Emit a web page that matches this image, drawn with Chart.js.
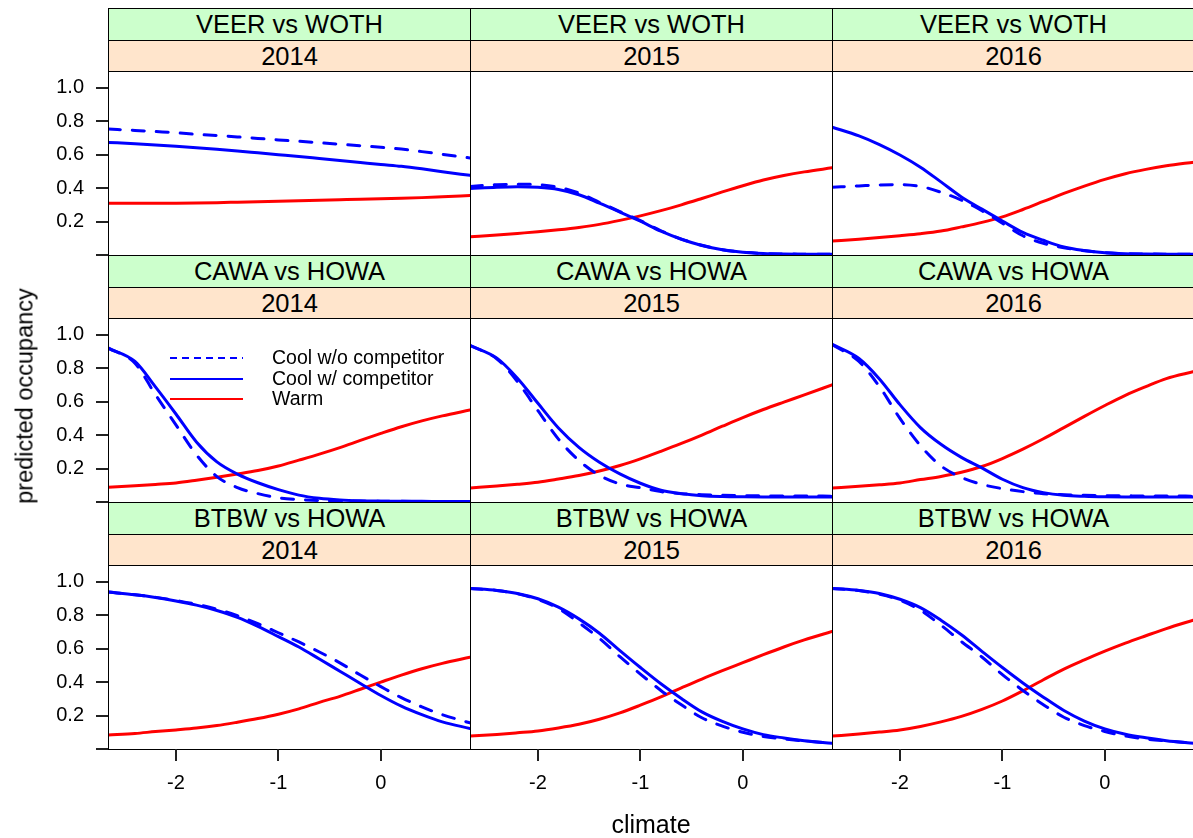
<!DOCTYPE html>
<html>
<head>
<meta charset="utf-8">
<script src="https://cdn.jsdelivr.net/npm/chart.js@4.4.0/dist/chart.umd.min.js"></script>
<style>
html,body{margin:0;padding:0;background:#fff;overflow:hidden;width:1193px;height:838px;}
#root{position:relative;width:1193px;height:838px;overflow:hidden;font-family:"Liberation Sans",Arial,sans-serif;color:#000;}
canvas{position:absolute;z-index:1;}
.strip{position:absolute;box-sizing:border-box;border:1px solid #000;text-align:center;font-size:25.5px;white-space:nowrap;z-index:2;}
.frame{position:absolute;box-sizing:border-box;border:1px solid #000;z-index:3;pointer-events:none;}
.tick{position:absolute;background:#222;z-index:5;pointer-events:none;}
#ytitle{position:absolute;left:25px;top:396px;transform:translate(-50%,-50%) rotate(-90deg);font-size:23.5px;white-space:nowrap;z-index:4;}
#xtitle{position:absolute;left:651px;top:824px;transform:translate(-50%,-50%);font-size:25px;white-space:nowrap;z-index:4;}
</style>
</head>
<body>
<div id="root">
  <div id="ytitle">predicted occupancy</div>
  <div id="xtitle">climate</div>
</div>
<script>
// ---------- data ----------
const climate = [-2.66, -2.4, -2.2, -2.0, -1.8, -1.6, -1.4, -1.2, -1.0, -0.8, -0.6, -0.4, -0.2, 0.0, 0.2, 0.4, 0.6, 0.87];
const pairs = ['VEER vs WOTH', 'CAWA vs HOWA', 'BTBW vs HOWA'];
const years = ['2014', '2015', '2016'];
const seriesLabels = ['Cool w/o competitor', 'Cool w/ competitor', 'Warm'];
const xTickValues = [-2, -1, 0];
const yTickValues = [0, 0.2, 0.4, 0.6, 0.8, 1.0];

// VEER vs WOTH
const veer2014_noComp = [.753,.745,.738,.731,.721,.714,.706,.697,.688,.680,.671,.662,.653,.644,.633,.618,.602,.580];
const veer2014_comp   = [.673,.665,.658,.650,.641,.632,.622,.611,.600,.589,.577,.565,.553,.541,.530,.515,.498,.476];
const veer2014_warm   = [.310,.310,.310,.310,.311,.313,.316,.319,.322,.325,.328,.331,.334,.336,.339,.343,.348,.355];
const veer2015_noComp = [.410,.420,.423,.420,.405,.370,.315,.260,.205,.145,.095,.058,.032,.016,.009,.006,.005,.004];
const veer2015_comp   = [.397,.405,.408,.405,.392,.360,.310,.257,.202,.142,.094,.057,.031,.016,.009,.006,.005,.004];
const veer2015_warm   = [.109,.119,.129,.139,.151,.165,.183,.207,.234,.265,.300,.338,.377,.414,.448,.475,.497,.521];
const veer2016_noComp = [.405,.413,.419,.421,.410,.375,.328,.265,.190,.115,.070,.043,.026,.014,.008,.006,.005,.004];
const veer2016_comp   = [.764,.712,.660,.598,.525,.437,.347,.274,.203,.135,.088,.048,.027,.014,.008,.006,.005,.004];
const veer2016_warm   = [.083,.094,.104,.115,.127,.143,.168,.195,.228,.272,.320,.368,.412,.452,.486,.512,.533,.555];
// CAWA vs HOWA
const cawa2014_noComp = [.920,.830,.642,.461,.282,.152,.086,.050,.025,.015,.009,.006,.005,.004,.004,.003,.003,.003];
const cawa2014_comp   = [.920,.840,.688,.526,.359,.240,.167,.115,.074,.041,.022,.012,.007,.005,.004,.004,.003,.003];
const cawa2014_warm   = [.088,.097,.105,.114,.130,.148,.167,.188,.215,.250,.286,.325,.368,.410,.450,.485,.515,.550];
const cawa2015_noComp = [.935,.855,.720,.546,.376,.248,.160,.108,.085,.062,.050,.044,.040,.038,.037,.036,.036,.035];
const cawa2015_comp   = [.935,.860,.740,.590,.443,.327,.238,.168,.112,.070,.050,.038,.033,.031,.030,.030,.030,.030];
const cawa2015_warm   = [.084,.096,.106,.118,.137,.158,.185,.218,.258,.303,.350,.400,.453,.505,.553,.597,.640,.700];
const cawa2016_noComp = [.940,.840,.690,.500,.337,.216,.147,.105,.080,.062,.050,.044,.040,.038,.037,.036,.036,.035];
const cawa2016_comp   = [.942,.858,.736,.582,.445,.345,.267,.204,.136,.086,.056,.040,.034,.031,.030,.030,.030,.030];
const cawa2016_warm   = [.084,.094,.103,.114,.134,.153,.178,.212,.260,.316,.378,.445,.512,.577,.638,.690,.738,.780];
// BTBW vs HOWA
const btbw2014_noComp = [.938,.922,.907,.888,.865,.836,.797,.749,.695,.640,.580,.515,.442,.373,.307,.252,.205,.156];
const btbw2014_comp   = [.938,.922,.906,.885,.860,.828,.787,.733,.672,.610,.538,.465,.392,.320,.256,.205,.162,.123];
const btbw2014_warm   = [.083,.093,.104,.114,.125,.140,.160,.182,.208,.240,.279,.315,.357,.400,.442,.480,.512,.548];
const btbw2015_noComp = [.960,.948,.928,.894,.840,.755,.661,.552,.448,.350,.264,.187,.137,.100,.075,.060,.048,.034];
const btbw2015_comp   = [.960,.948,.930,.898,.848,.778,.692,.588,.487,.390,.302,.222,.165,.120,.086,.066,.050,.034];
const btbw2015_warm   = [.077,.087,.097,.108,.126,.148,.178,.216,.262,.311,.365,.418,.468,.516,.564,.610,.652,.703];
const btbw2016_noComp = [.960,.947,.925,.890,.830,.740,.642,.550,.445,.350,.265,.190,.140,.105,.078,.060,.048,.034];
const btbw2016_comp   = [.960,.948,.930,.895,.845,.770,.683,.584,.487,.395,.310,.230,.167,.120,.088,.067,.050,.034];
const btbw2016_warm   = [.077,.090,.101,.114,.135,.162,.195,.237,.287,.348,.414,.478,.533,.585,.633,.677,.720,.772];

const panelSeries = [
  [[veer2014_noComp, veer2014_comp, veer2014_warm], [veer2015_noComp, veer2015_comp, veer2015_warm], [veer2016_noComp, veer2016_comp, veer2016_warm]],
  [[cawa2014_noComp, cawa2014_comp, cawa2014_warm], [cawa2015_noComp, cawa2015_comp, cawa2015_warm], [cawa2016_noComp, cawa2016_comp, cawa2016_warm]],
  [[btbw2014_noComp, btbw2014_comp, btbw2014_warm], [btbw2015_noComp, btbw2015_comp, btbw2015_warm], [btbw2016_noComp, btbw2016_comp, btbw2016_warm]]
];

// ---------- layout ----------
const FONT = '"Liberation Sans", Arial, sans-serif';
Chart.defaults.font.family = FONT;
const colLeft = [108, 470, 832];
const rowTop = [8, 255, 502];
const PW = 362, S1 = 32, S2 = 31, PH = 184;
const XMIN = -2.663, XMAX = 0.87, YMIN = 0, YMAX = 1.1;
const TICKLEN = 12;
const root = document.getElementById('root');

const legendPlugin = {
  id: 'insideLegend',
  afterDatasetsDraw(chart) {
    const ctx = chart.ctx;
    const a = chart.chartArea;
    const ys = [40, 61, 81];
    chart.data.datasets.forEach((d, i) => {
      ctx.save();
      ctx.strokeStyle = d.borderColor;
      ctx.lineWidth = 2;
      ctx.setLineDash(d.borderDash && d.borderDash.length ? [7, 5] : []);
      ctx.beginPath();
      ctx.moveTo(a.left + 62, ys[i]);
      ctx.lineTo(a.left + 135, ys[i]);
      ctx.stroke();
      ctx.setLineDash([]);
      ctx.fillStyle = '#000';
      ctx.font = '19.5px ' + FONT;
      ctx.textBaseline = 'middle';
      ctx.textAlign = 'left';
      ctx.fillText(d.label, a.left + 164, ys[i] + 1);
      ctx.restore();
    });
  }
};

function addDiv(cls, l, t, w, h, bg, text) {
  const d = document.createElement('div');
  d.className = cls;
  d.style.left = l + 'px'; d.style.top = t + 'px';
  d.style.width = w + 'px'; d.style.height = h + 'px';
  if (bg) d.style.background = bg;
  if (text !== undefined) { d.textContent = text; d.style.lineHeight = (h - 2) + 'px'; }
  root.appendChild(d);
  return d;
}
function zeroPad(sc) { sc.paddingTop = 0; sc.paddingBottom = 0; sc.paddingLeft = 0; sc.paddingRight = 0; }

for (let r = 0; r < 3; r++) {
  for (let c = 0; c < 3; c++) {
    const L = colLeft[c], T = rowTop[r];
    addDiv('strip', L, T, PW + 1, S1 + 1, '#ccffcc', pairs[r]);
    addDiv('strip', L, T + S1, PW + 1, S2 + 1, '#ffe5cc', years[c]);
    addDiv('frame', L, T + S1 + S2, PW + 1, PH + 1);

    const cv = document.createElement('canvas');
    const cl = c === 0 ? 0 : L;
    const cw = c === 0 ? L + PW : PW;
    const ct = T + S1 + S2;
    const ch = r === 2 ? 838 - ct : PH + 2;
    const yW = c === 0 ? colLeft[0] : 0;
    const xH = ch - PH;
    cv.width = cw; cv.height = ch;
    cv.style.left = cl + 'px'; cv.style.top = ct + 'px';
    cv.style.width = cw + 'px'; cv.style.height = ch + 'px';
    root.appendChild(cv);

    const s = panelSeries[r][c];
    const mk = (arr) => climate.map((x, i) => ({ x: x, y: arr[i] }));
    const chart = new Chart(cv, {
      type: 'line',
      data: { datasets: [
        { label: seriesLabels[0], data: mk(s[0]), borderColor: '#0000ff', borderDash: [12, 12], borderCapStyle: 'round' },
        { label: seriesLabels[1], data: mk(s[1]), borderColor: '#0000ff', borderDash: [], borderCapStyle: 'round' },
        { label: seriesLabels[2], data: mk(s[2]), borderColor: '#ff0000', borderDash: [], borderCapStyle: 'round' }
      ] },
      options: {
        responsive: false, animation: false, devicePixelRatio: 1,
        layout: { padding: 0 },
        plugins: { legend: { display: false }, tooltip: { enabled: false } },
        elements: { point: { radius: 0 }, line: { borderWidth: 3, cubicInterpolationMode: 'monotone', fill: false } },
        scales: {
          x: { type: 'linear', min: XMIN, max: XMAX, display: r === 2,
            afterBuildTicks: (sc) => { sc.ticks = xTickValues.map(v => ({ value: v })); },
            afterFit: (sc) => { sc.height = xH; zeroPad(sc); },
            grid: { drawOnChartArea: false, drawTicks: true, tickLength: TICKLEN, color: '#222', lineWidth: 2 },
            border: { display: false },
            ticks: { font: { size: 20 }, color: '#000', padding: 10, maxRotation: 0, autoSkip: false, callback: (v) => String(v) } },
          y: { type: 'linear', min: YMIN, max: YMAX, display: c === 0,
            afterBuildTicks: (sc) => { sc.ticks = yTickValues.map(v => ({ value: v })); },
            afterFit: (sc) => { sc.width = yW; zeroPad(sc); },
            grid: { drawOnChartArea: false, drawTicks: true, tickLength: TICKLEN, color: '#222', lineWidth: 2 },
            border: { display: false },
            ticks: { font: { size: 20 }, color: '#000', padding: 12, autoSkip: false, callback: (v) => v === 0 ? '' : v.toFixed(1) } }
        }
      },
      plugins: (r === 1 && c === 0) ? [legendPlugin] : []
    });

    // tick marks placed from the chart's own scale positions
    const a = chart.chartArea;
    if (c === 0) {
      yTickValues.forEach(v => {
        const y = ct + Math.round(chart.scales.y.getPixelForValue(v));
        addDiv('tick', cl + a.left - TICKLEN, y - 1, TICKLEN, 2);
      });
    }
    if (r === 2) {
      xTickValues.forEach(v => {
        const x = cl + Math.round(chart.scales.x.getPixelForValue(v));
        addDiv('tick', x - 1, ct + a.bottom, 2, TICKLEN);
      });
      if (c === 0) addDiv('tick', cl + a.left - TICKLEN, ct + a.bottom - 1, TICKLEN, 2);
    }
  }
}
</script>
</body>
</html>
